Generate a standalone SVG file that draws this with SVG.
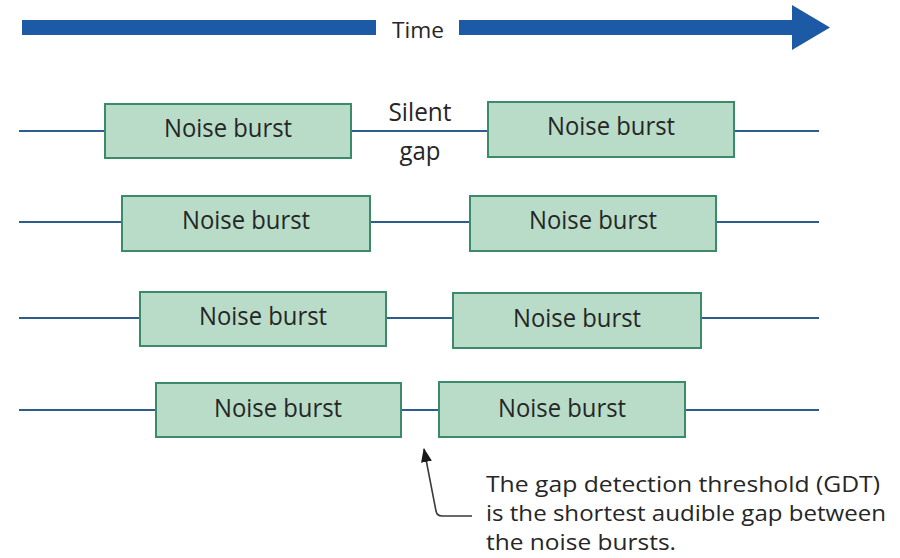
<svg xmlns="http://www.w3.org/2000/svg" width="900" height="558" viewBox="0 0 900 558">
<defs>
<style>
.box{fill:#b8dcc8;stroke:#3b8a6a;stroke-width:2}
.lbl{font-family:"Open Sans","Noto Sans","Liberation Sans",sans-serif;font-size:25px;fill:#262626;text-anchor:middle}
.txt{font-family:"Open Sans","Noto Sans","Liberation Sans",sans-serif;font-size:22px;fill:#262626}
.tl{stroke:#2d5d8c;stroke-width:2;fill:none}
</style>
<marker id="ah" markerWidth="14" markerHeight="11" refX="13" refY="5.5" orient="auto" markerUnits="userSpaceOnUse">
<path d="M0,0 L14,5.5 L0,11 Z" fill="#1a1a1a"/>
</marker>
</defs>
<rect width="900" height="558" fill="#ffffff"/>

<g id="time-arrow">
<rect x="22" y="20" width="354" height="15" fill="#1d5aa5"/>
<path d="M459,20 L792,20 L792,5 L830,27.5 L792,50 L792,35 L459,35 Z" fill="#1d5aa5"/>
<text class="txt" x="392" y="38" font-size="25" textLength="52" lengthAdjust="spacingAndGlyphs">Time</text>
</g>

<g id="connectors">
<line class="tl" x1="19" y1="131" x2="105" y2="131"/>
<line class="tl" x1="351" y1="131" x2="488" y2="131"/>
<line class="tl" x1="734" y1="131" x2="819" y2="131"/>
<line class="tl" x1="19" y1="222" x2="122" y2="222"/>
<line class="tl" x1="370" y1="222" x2="470" y2="222"/>
<line class="tl" x1="716" y1="222" x2="819" y2="222"/>
<line class="tl" x1="19" y1="318" x2="140" y2="318"/>
<line class="tl" x1="386" y1="318" x2="453" y2="318"/>
<line class="tl" x1="701" y1="318" x2="819" y2="318"/>
<line class="tl" x1="19" y1="410" x2="156" y2="410"/>
<line class="tl" x1="401" y1="410" x2="439" y2="410"/>
<line class="tl" x1="685" y1="410" x2="819" y2="410"/>
<path d="M472,516 L442,516 Q437,516 436,511 L424,449" fill="none" stroke="#3a3a3a" stroke-width="1.6" marker-end="url(#ah)"/>
</g>

<g id="r1b1"><rect class="box" x="105" y="104" width="246" height="54"/><text class="lbl" x="228" y="137" textLength="128" lengthAdjust="spacingAndGlyphs">Noise burst</text></g>
<g id="r1b2"><rect class="box" x="488" y="102" width="246" height="55"/><text class="lbl" x="611" y="135" textLength="128" lengthAdjust="spacingAndGlyphs">Noise burst</text></g>
<g id="silent-gap">
<text class="lbl" x="420" y="121" textLength="63" lengthAdjust="spacingAndGlyphs">Silent</text>
<text class="lbl" x="420" y="160" textLength="41" lengthAdjust="spacingAndGlyphs">gap</text>
</g>
<g id="r2b1"><rect class="box" x="122" y="196" width="248" height="55"/><text class="lbl" x="246" y="229" textLength="128" lengthAdjust="spacingAndGlyphs">Noise burst</text></g>
<g id="r2b2"><rect class="box" x="470" y="196" width="246" height="55"/><text class="lbl" x="593" y="229" textLength="128" lengthAdjust="spacingAndGlyphs">Noise burst</text></g>
<g id="r3b1"><rect class="box" x="140" y="292" width="246" height="54"/><text class="lbl" x="263" y="325" textLength="128" lengthAdjust="spacingAndGlyphs">Noise burst</text></g>
<g id="r3b2"><rect class="box" x="453" y="293" width="248" height="55"/><text class="lbl" x="577" y="327" textLength="128" lengthAdjust="spacingAndGlyphs">Noise burst</text></g>
<g id="r4b1"><rect class="box" x="156" y="383" width="245" height="54"/><text class="lbl" x="278" y="417" textLength="128" lengthAdjust="spacingAndGlyphs">Noise burst</text></g>
<g id="r4b2"><rect class="box" x="439" y="382" width="246" height="55"/><text class="lbl" x="562" y="417" textLength="128" lengthAdjust="spacingAndGlyphs">Noise burst</text></g>

<g id="gdt-note">
<text class="txt" x="486" y="492" textLength="394" lengthAdjust="spacingAndGlyphs">The gap detection threshold (GDT)</text>
<text class="txt" x="486" y="521" textLength="400" lengthAdjust="spacingAndGlyphs">is the shortest audible gap between</text>
<text class="txt" x="486" y="550" textLength="190" lengthAdjust="spacingAndGlyphs">the noise bursts.</text>
</g>
</svg>
